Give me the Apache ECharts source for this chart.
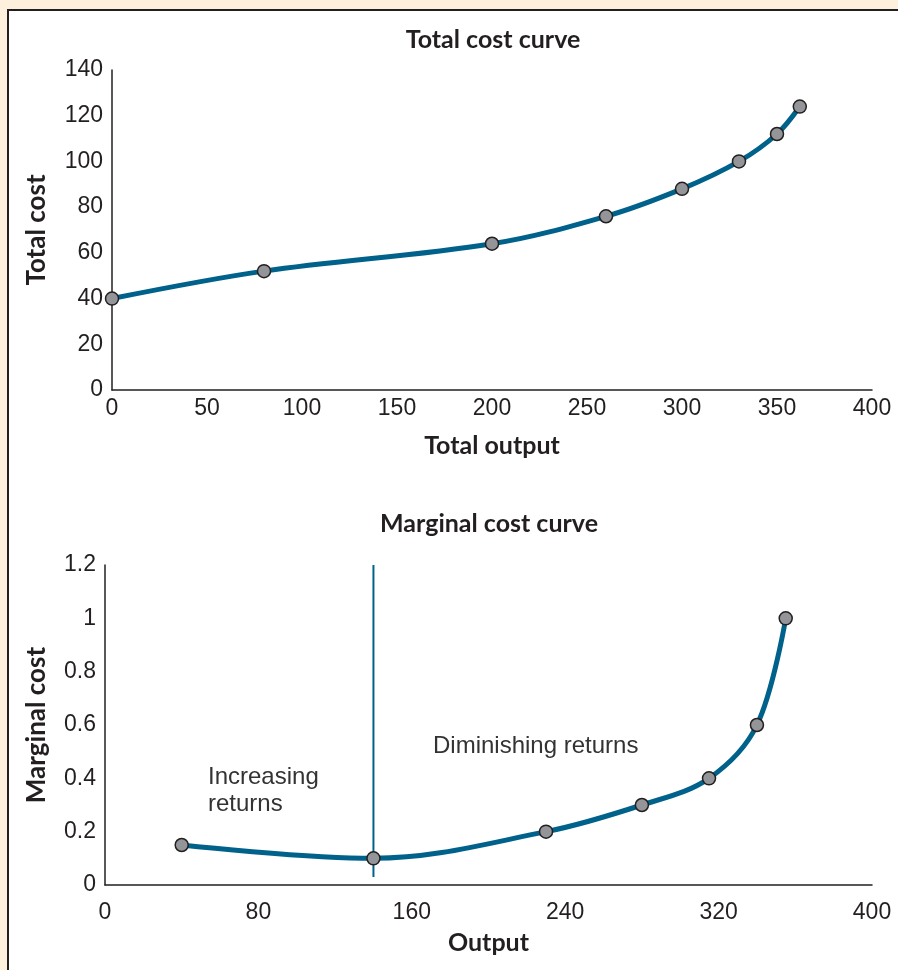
<!DOCTYPE html>
<html>
<head>
<meta charset="utf-8">
<script src="https://cdn.jsdelivr.net/npm/echarts@6/dist/echarts.min.js"></script>
<style>
    html, body { margin: 0; padding: 0; background: #fdf0dc; }
    #panel {
        position: absolute; left: 7px; top: 9px; width: 960px; height: 1000px;
        background: #fff; border: 2px solid #231f20;
    }
    #chart { position: absolute; left: 0; top: 0; width: 898px; height: 970px; }
</style>
</head>
<body>
<div id="panel"></div>
<div id="chart"></div>
<script>
// total cost curve
var totalOutput = [0, 80, 200, 260, 300, 330, 350, 362];
var totalCost   = [40, 52, 64, 76, 88, 100, 112, 124];

// marginal cost curve
var mcOutput = [40, 140, 230, 280, 315, 340, 355];
var mcCost   = [0.15, 0.1, 0.2, 0.3, 0.4, 0.6, 1.0];

// divider between increasing and diminishing returns
var dividerX = [140, 140];
var dividerY = [1.2, 0.03];

var lineColor = '#00628b',
    axisColor = '#231f20',
    tickFont  = '"Liberation Sans", Arial, sans-serif',
    boldFont  = 'Lato, "Open Sans", sans-serif';

function pairs(xs, ys) {
    var out = [];
    for (var i = 0; i < xs.length; i++) out.push([xs[i], ys[i]]);
    return out;
}

function valueAxis(idx, min, max, interval, name, gap, isX) {
    return {
        type: 'value', gridIndex: idx, min: min, max: max, interval: interval,
        name: name, nameLocation: 'middle', nameGap: gap,
        nameRotate: isX ? 0 : 90,
        nameTextStyle: {fontFamily: boldFont, fontWeight: 'bold', fontSize: isX ? 25 : 26, color: axisColor},
        axisLine: {show: true, onZero: false, lineStyle: {color: axisColor, width: 1.5}},
        axisTick: {show: false},
        splitLine: {show: false},
        axisLabel: {fontFamily: tickFont, fontSize: 23, color: axisColor, margin: isX ? (idx ? 16 : 7) : 9}
    };
}

var curveStyle = {
    type: 'line', smooth: 0.35, symbol: 'circle', symbolSize: 13,
    lineStyle: {color: lineColor, width: 5},
    itemStyle: {color: '#949599', borderColor: axisColor, borderWidth: 1.5},
    z: 5
};

var chart = echarts.init(document.getElementById('chart'));
chart.setOption({
    backgroundColor: 'transparent',
    animation: false,
    title: [
        {text: 'Total cost curve', left: 488, top: 22, textAlign: 'center',
            textStyle: {fontFamily: boldFont, fontWeight: 'bold', fontSize: 25, color: axisColor}},
        {text: 'Marginal cost curve', left: 484, top: 506, textAlign: 'center',
            textStyle: {fontFamily: boldFont, fontWeight: 'bold', fontSize: 25, color: axisColor}}
    ],
    grid: [
        {left: 112, right: 26, top: 70, height: 320},
        {left: 105, right: 26, top: 565, height: 320}
    ],
    xAxis: [
        valueAxis(0, 0, 400, 50, 'Total output', 43, true),
        valueAxis(1, 0, 400, 80, 'Output', 45, true)
    ],
    yAxis: [
        valueAxis(0, 0, 140, 20, 'Total cost', 62, false),
        valueAxis(1, 0, 1.2, 0.2, 'Marginal cost', 55, false)
    ],
    graphic: [
        {type: 'text', left: 208, top: 764, style: {text: 'Increasing\nreturns', font: '24px ' + tickFont, fill: '#333', lineHeight: 27}},
        {type: 'text', left: 433, top: 734, style: {text: 'Diminishing returns', font: '24px ' + tickFont, fill: '#333'}}
    ],
    series: [
        Object.assign({}, curveStyle, {xAxisIndex: 0, yAxisIndex: 0, data: pairs(totalOutput, totalCost)}),
        {
            type: 'line', xAxisIndex: 1, yAxisIndex: 1, symbol: 'none',
            lineStyle: {color: lineColor, width: 2}, z: 3,
            data: pairs(dividerX, dividerY)
        },
        Object.assign({}, curveStyle, {xAxisIndex: 1, yAxisIndex: 1, data: pairs(mcOutput, mcCost)})
    ]
});
</script>
</body>
</html>
